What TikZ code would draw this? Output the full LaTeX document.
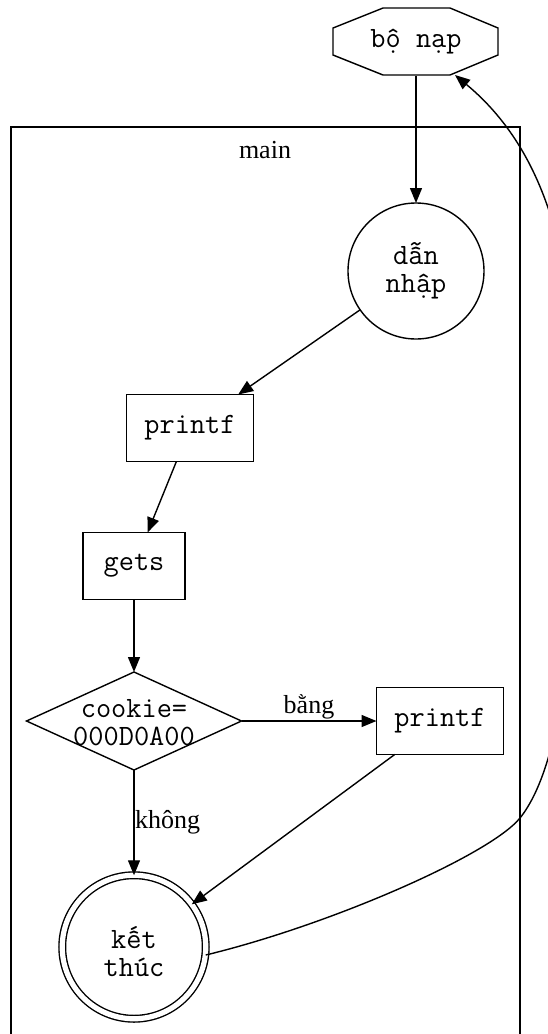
\documentclass[tikz,border=0pt]{standalone}
\usepackage{fontspec}
\setmainfont{Liberation Serif}
\usetikzlibrary{arrows.meta,shapes.geometric}

\tikzset{
  every node/.style={inner sep=0pt, outer sep=0pt},
  code/.style={font=\ttfamily\fontsize{29.5}{28}\selectfont, align=center},
  boxnode/.style={code, draw, line width=1.4pt, rectangle, minimum width=127pt, minimum height=67pt},
  roundnode/.style={code, draw, line width=1.4pt, circle, minimum size=136pt},
  tag/.style={font=\fontsize{26}{28}\selectfont},
  flow/.style={line width=1.4pt, -{Triangle[length=15pt,width=12pt]}},
}

\begin{document}
\begin{tikzpicture}[x=1pt, y=-1pt]
  \useasboundingbox (0,0) rectangle (547,1034);

  % cluster "main"
  \draw[line width=1.4pt] (11,1045) -- (11,127) -- (520,127) -- (520,1045);
  \node[tag] (mainlbl) at (265,150) {main};

  % loader (octagon)
  \node[code, minimum width=165pt, minimum height=67pt] (bn) at (416,42) {bộ nạp};
  \draw[line width=1.4pt] (383,8) -- (450,8) -- (498,28) -- (498,55) -- (450,75)
        -- (383,75) -- (333,55) -- (333,28) -- cycle;
  \coordinate (bnin) at (455,75);

  % nodes inside main
  \node[roundnode] (dn) at (416,271) {dẫn\\nhập};
  \node[boxnode] (p1) at (190,428) {printf};
  \node[boxnode, minimum width=102pt] (gt) at (134,566) {gets};
  \node[draw, line width=1.4pt, diamond, shape aspect=2.19,
        minimum width=215pt, minimum height=98pt] (ck) at (134,721) {};
  \node[code] (cktxt) at (134,723) {cookie=\\000D0A00};
  \node[boxnode] (p2) at (440,721) {printf};
  \node[circle, draw, minimum size=143.5pt, double, double distance=5.2pt, line width=1.4pt] (kt) at (134,947) {};
  \node[code] (ktxt) at (134,952) {kết\\thúc};

  % connectors
  \draw[flow] (bn.south) -- (dn);
  \draw[flow] (dn) -- (p1);
  \draw[flow] (p1) -- (gt);
  \draw[flow] (gt) -- (ck);
  \draw[flow] (ck.east) -- node[tag, above=2pt] (lbang) {bằng} (p2.west);
  \draw[flow] (ck.south) -- node[tag, right=1pt] (lkhong) {không} (kt.north);
  \draw[flow] (p2) -- (kt);
  \coordinate (ktout) at ([yshift=-8pt]kt.east);
  \draw[flow] (ktout) .. controls (330,925) and (490,855) .. (520,818)
        .. controls (560,768) and (575,640) .. (575,490)
        .. controls (580,330) and (572,172) .. (bnin);
\end{tikzpicture}
\end{document}
